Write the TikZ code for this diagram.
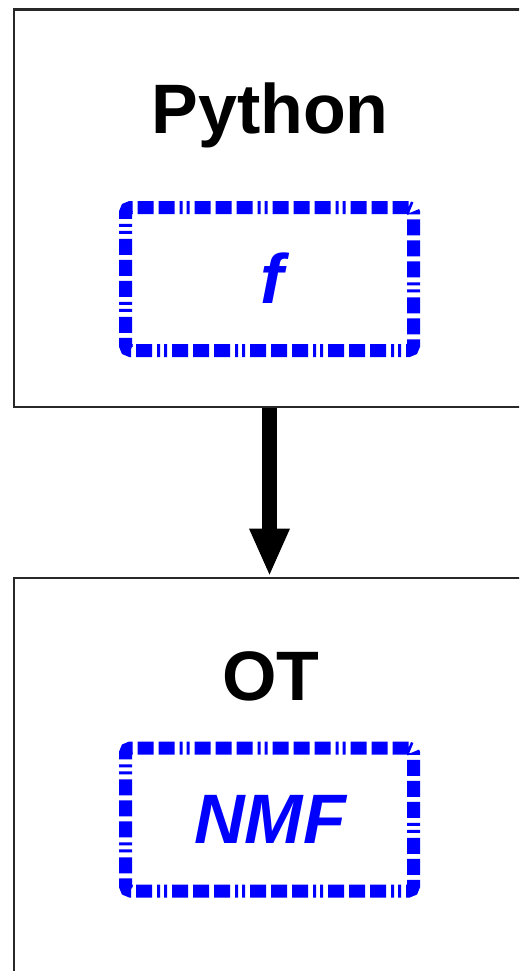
\documentclass[tikz,border=0pt]{standalone}
\usepackage{fontspec}
\setmainfont{Liberation Sans}
\usetikzlibrary{arrows.meta}
\definecolor{pureblue}{RGB}{0,0,255}
\definecolor{framegray}{RGB}{40,40,40}
\tikzset{
  outerbox/.style={draw=framegray, line width=2.2pt, rectangle, inner sep=0pt},
  innerbox/.style={draw=pureblue, line width=13pt, rectangle, rounded corners=5pt,
    inner sep=0pt, minimum width=288pt, minimum height=143pt,
    dash pattern=on 16pt off 5pt on 16pt off 5pt on 16pt off 5pt on 3pt off 4pt on 3pt off 5pt},
  titletext/.style={font=\fontsize{70}{84}\selectfont\bfseries, text=black, inner sep=0pt, anchor=base},
  innertext/.style={font=\fontsize{70}{84}\selectfont\bfseries\itshape, text=pureblue, inner sep=0pt, anchor=base},
  flowarrow/.style={line width=15pt, -{Triangle[length=48pt,width=37pt]}}
}
\begin{document}
\begin{tikzpicture}[x=1pt,y=-1pt]
  \useasboundingbox (0,0) rectangle (519,971);
  \clip (0,0) rectangle (519,971);
  % outer frames
  \node[outerbox, minimum width=530pt, minimum height=397pt, anchor=north west] (top) at (12.5,8.5) {};
  \node[outerbox, minimum width=530pt, minimum height=420pt, anchor=north west] (bot) at (12.5,576.5) {};
  % titles
  \node[titletext] (python) at (270,133) {Python};
  \node[titletext] (ot) at (271,700) {OT};
  % inner dashed boxes
  \node[innerbox] (fbox) at (269.5,279) {};
  \node[innerbox] (nmfbox) at (269.5,819.5) {};
  \node[innertext] (ftext) at (272,303) {f};
  \node[innertext] (nmftext) at (270,843) {NMF};
  % connector
  \draw[flowarrow] (top.south -| fbox.center) -- (bot.north -| fbox.center);
\end{tikzpicture}
\end{document}
